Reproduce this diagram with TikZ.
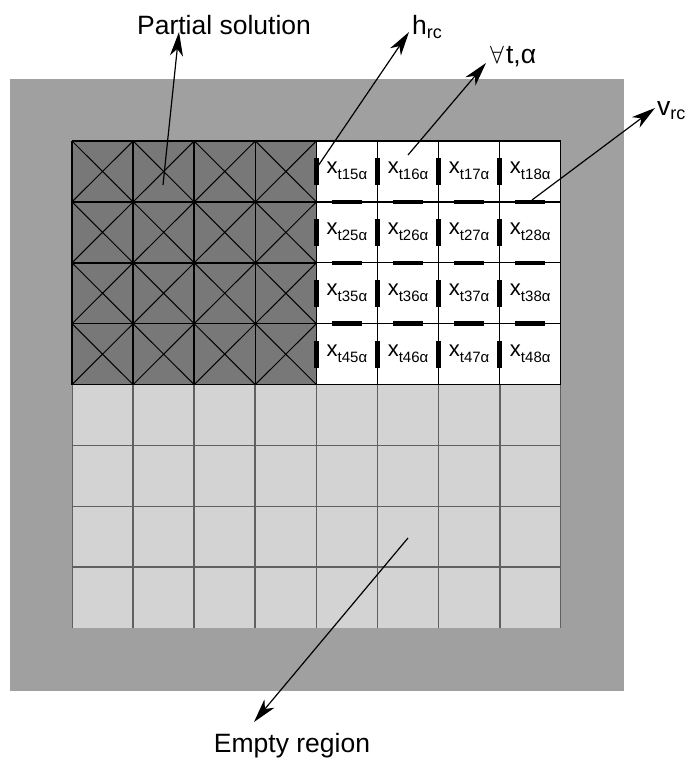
\documentclass[tikz,border=0pt]{standalone}
\usepackage{fontspec}
\setmainfont{Liberation Sans}
\usetikzlibrary{arrows.meta}
\newcommand\subbed[2]{#1\raisebox{-6pt}{\fontsize{15}{15}\selectfont #2}}
\newcommand\bigsub[2]{#1\raisebox{-4.5pt}{\fontsize{18}{18}\selectfont #2}}
\definecolor{bggrey}{HTML}{A0A0A0}
\definecolor{darkcell}{HTML}{787878}
\definecolor{lightcell}{HTML}{D3D3D3}
\definecolor{lightline}{HTML}{606060}
\begin{document}
\begin{tikzpicture}[x=1pt,y=-1pt,
  pointer/.style={line width=1.2pt,-{Stealth[length=24pt,width=13pt,inset=7pt]}},
  biglabel/.style={font=\fontsize{26.5}{30}\selectfont, inner sep=0pt},
  celllabel/.style={font=\fontsize{22}{24}\selectfont, inner sep=0pt, anchor=base},
  thickbar/.style={line width=4.5pt},
  darkline/.style={line width=1.5pt},
  diagline/.style={line width=1pt},
  whiteline/.style={line width=1.2pt},
  lightgrid/.style={draw=lightline, line width=1.7pt},
  lightedge/.style={draw=lightline, line width=1pt}]
\useasboundingbox (0,0) rectangle (689,761);
% background frame
\fill[bggrey] (10,79) rectangle (624,691);
% light (empty) region
\fill[lightcell] (72,384.6) rectangle (560.8,628.2);
\foreach \c in {1,...,7}{
  \pgfmathsetmacro\xx{72+61.1*\c}
  \draw[lightgrid] (\xx,384.6) -- (\xx,628.2);
}
\draw[lightedge] (72.5,384.6) -- (72.5,628.2);
\draw[lightedge] (560.3,384.6) -- (560.3,628.2);
\foreach \r in {5,6,7}{
  \pgfmathsetmacro\yy{141+60.9*\r}
  \draw[lightgrid] (72,\yy) -- (560.8,\yy);
}
% white region
\fill[white] (316.4,141) rectangle (560.8,384.6);
\draw[whiteline] (316.4,141) rectangle (560.8,384.6);
\foreach \c in {5,6,7}{
  \pgfmathsetmacro\xx{72+61.1*\c}
  \draw[whiteline] (\xx,141) -- (\xx,384.6);
}
\foreach \r in {1,2,3}{
  \pgfmathsetmacro\yy{141+60.9*\r}
  \draw[whiteline] (316.4,\yy) -- (560.8,\yy);
}
% dark (partial solution) region
\fill[darkcell] (72,141) rectangle (316.4,384.6);
\foreach \c in {0,...,3}{
  \foreach \r in {0,...,3}{
    \pgfmathsetmacro\xa{72+61.1*\c}
    \pgfmathsetmacro\xb{72+61.1*(\c+1)}
    \pgfmathsetmacro\ya{141+60.9*\r}
    \pgfmathsetmacro\yb{141+60.9*(\r+1)}
    \draw[diagline] (\xa,\ya) -- (\xb,\yb) (\xa,\yb) -- (\xb,\ya);
  }
}
\foreach \c in {0,...,4}{
  \pgfmathsetmacro\xx{72+61.1*\c}
  \draw[darkline] (\xx,141) -- (\xx,384.6);
}
\foreach \r in {0,...,4}{
  \pgfmathsetmacro\yy{141+60.9*\r}
  \draw[darkline] (72,\yy) -- (316.4,\yy);
}
% thick bars (variables h and v)
\foreach \c in {4,...,7}{
  \foreach \r in {0,...,3}{
    \pgfmathsetmacro\xx{72+61.1*\c}
    \pgfmathsetmacro\yc{141+60.9*\r+30.45}
    \draw[thickbar] (\xx,\yc-13.5) -- (\xx,\yc+13.5);
  }
}
\foreach \c in {4,...,7}{
  \foreach \r in {1,2,3}{
    \pgfmathsetmacro\xc{72+61.1*\c+30.55}
    \pgfmathsetmacro\yy{141+60.9*\r}
    \draw[thickbar] (\xc-15,\yy) -- (\xc+15,\yy);
  }
}
% cell labels
\foreach \r in {1,...,4}{
  \foreach \c in {5,...,8}{
    \pgfmathsetmacro\xc{72+61.1*(\c-1)+30.55}
    \pgfmathsetmacro\yb{141+60.9*(\r-1)+32.3}
    \node[celllabel] (x\r\c) at (\xc,\yb) {\subbed{x}{t\r\c α}};
  }
}
% labels
\node[biglabel, anchor=base] (partial) at (224,34) {Partial solution};
\node[biglabel, anchor=base west] (hrc) at (412,34) {\bigsub{h}{rc}};
\node[biglabel, anchor=base west] (forall) at (490,63) {$\forall$\kern2pt t,α};
\node[biglabel, anchor=base west] (vrc) at (657,115) {\bigsub{v}{rc}};
\node[biglabel, anchor=base] (empty) at (292,752) {Empty region};
% arrow ends
\coordinate (ps-from) at (163,185);
\coordinate (ps-tip) at (179,32);
\coordinate (h-from) at (318,166);
\coordinate (h-tip) at (409,32);
\coordinate (fa-from) at (408,155);
\coordinate (fa-tip) at (486,63);
\coordinate (v-from) at (532,200);
\coordinate (v-tip) at (655,108);
\coordinate (e-from) at (408,538);
\coordinate (e-tip) at (254,722);
\draw[pointer] (ps-from) -- (ps-tip);
\draw[pointer] (h-from) -- (h-tip);
\draw[pointer] (fa-from) -- (fa-tip);
\draw[pointer] (v-from) -- (v-tip);
\draw[pointer] (e-from) -- (e-tip);
\end{tikzpicture}
\end{document}
